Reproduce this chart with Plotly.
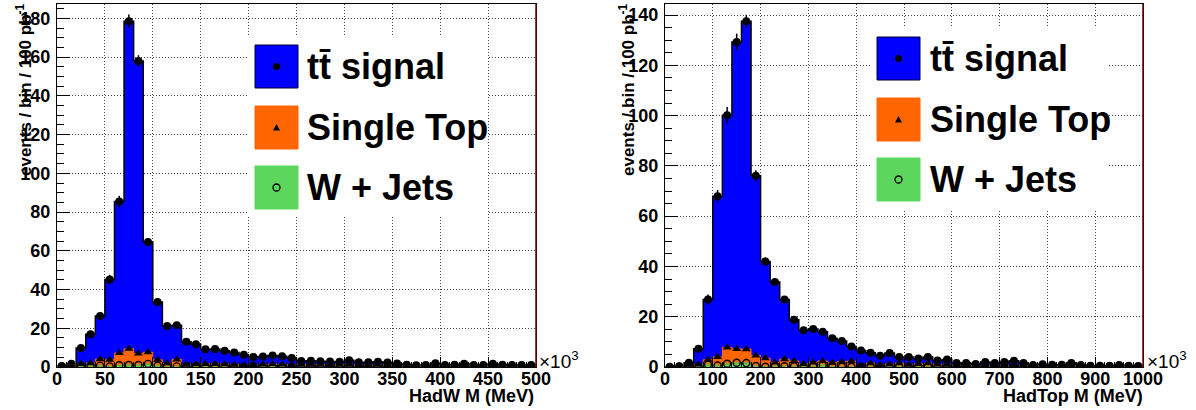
import numpy as np
import plotly.graph_objects as go

W, H = 1196, 410

# ---- Hadronic W candidate mass, 50 bins over 0-500 (x10^3 MeV) ----
hadw_range = (0, 500)
hadw_ttbar = [0.0, 0.2, 8.2, 14.9, 22.3, 41.5, 78.2, 169.1, 151.0, 56.9,
              29.8, 19.3, 17.7, 11.9, 10.3, 7.7, 7.7, 7.0, 6.3, 5.3,
              4.2, 4.1, 4.5, 4.3, 3.6, 2.0, 2.0, 1.9, 1.9, 1.6,
              2.3, 1.4, 1.5, 1.6, 1.3, 0.9, 0.4, 0.3, 0.3, 1.2,
              0.2, 0.4, 0.8, 0.3, 0.4, 0.9, 0.4, 0.4, 0.4, 0.4]
hadw_singletop = [0.2, 1.3, 0.9, 1.3, 3.3, 3.4, 6.3, 8.4, 6.0, 6.0,
                  2.9, 1.6, 3.6, 0.5, 0.8, 1.2, 1.4, 1.1, 1.0, 0.8,
                  0.5, 1.1, 1.3, 1.1, 0.8, 1.0, 1.1, 1.0, 0.9, 1.0,
                  1.1, 0.9, 0.9, 1.0, 0.9, 0.8, 0.7, 0.5, 0.6, 0.7,
                  0.7, 0.6, 0.8, 0.6, 0.5, 0.7, 0.6, 0.5, 0.5, 0.5]
hadw_wjets = [0.3, 0.2, 0.7, 0.7, 0.7, 0.3, 0.9, 1.0, 1.0, 1.6,
              0.8, 0.3, 0.3, 0.6, 0.6, 0.3, 0.2, 0.3, 0.2, 0.2,
              0.5, 0.2, 0.2, 0.2, 0.2, 0.1, 0.1, 0.1, 0.1, 0.1,
              0.1, 0.1, 0.1, 0.1, 0.1, 0.1, 0.1, 0.1, 0.1, 0.1,
              0.1, 0.1, 0.1, 0.1, 0.1, 0.1, 0.1, 0.1, 0.1, 0.1]
hadw_err = [0.2, 0.5, 1.0, 1.3, 1.6, 2.4, 3.0, 3.5, 3.0, 2.0,
            1.5, 1.2, 1.2, 1.0, 1.0, 0.9, 0.9, 0.8, 0.8, 0.7,
            0.7, 0.7, 0.7, 0.7, 0.6, 0.5, 0.5, 0.5, 0.5, 0.5,
            0.5, 0.5, 0.5, 0.5, 0.5, 0.4, 0.4, 0.3, 0.3, 0.4,
            0.3, 0.3, 0.4, 0.3, 0.3, 0.4, 0.3, 0.3, 0.3, 0.3]

# ---- Hadronic top candidate mass, 50 bins over 0-1000 (x10^3 MeV) ----
hadtop_range = (0, 1000)
hadtop_ttbar = [0.0, 0.2, 0.7, 6.3, 23.9, 63.9, 92.3, 122.1, 130.4, 71.5,
                38.5, 32.0, 23.7, 16.4, 13.4, 13.3, 11.6, 9.7, 8.2, 5.9,
                6.2, 4.2, 3.7, 4.5, 2.5, 3.1, 2.2, 2.5, 1.6, 2.1,
                0.9, 1.0, 0.7, 1.4, 1.1, 1.4, 1.8, 1.1, 0.4, 0.6,
                0.5, 0.5, 1.1, 0.4, 0.2, 0.2, 0.2, 0.4, 0.2, 0.1]
hadtop_singletop = [0.0, 0.0, 0.8, 0.7, 1.9, 3.4, 6.5, 5.5, 5.5, 4.2,
                    3.4, 1.5, 2.8, 2.1, 1.1, 1.5, 1.6, 1.6, 2.0, 2.2,
                    0.3, 1.4, 0.7, 1.0, 1.4, 0.8, 1.1, 1.4, 0.9, 0.8,
                    0.6, 0.5, 0.4, 0.5, 0.4, 0.5, 0.6, 0.4, 0.3, 0.4,
                    0.3, 0.3, 0.4, 0.3, 0.2, 0.2, 0.2, 0.3, 0.2, 0.2]
hadtop_wjets = [0.0, 0.1, 0.2, 0.3, 1.0, 0.6, 1.3, 1.7, 1.6, 0.4,
                0.1, 0.3, 0.3, 0.3, 0.1, 0.3, 0.8, 0.1, 0.1, 0.1,
                0.1, 0.1, 0.1, 0.1, 0.1, 0.1, 0.1, 0.1, 0.1, 0.1,
                0.1, 0.1, 0.1, 0.1, 0.1, 0.1, 0.1, 0.1, 0.1, 0.1,
                0.1, 0.1, 0.1, 0.1, 0.1, 0.1, 0.1, 0.1, 0.1, 0.1]
hadtop_err = [0.0, 0.2, 0.5, 1.2, 2.0, 2.5, 3.3, 3.3, 2.6, 2.2,
              1.6, 1.4, 1.3, 1.1, 1.0, 1.0, 1.0, 0.9, 0.9, 0.8,
              0.7, 0.7, 0.6, 0.7, 0.6, 0.6, 0.5, 0.6, 0.5, 0.5,
              0.4, 0.4, 0.3, 0.4, 0.4, 0.4, 0.5, 0.4, 0.3, 0.3,
              0.3, 0.3, 0.4, 0.3, 0.2, 0.2, 0.2, 0.3, 0.2, 0.2]

legend_labels = ["tt\u0304 signal", "Single Top", "W + Jets"]

C_TT = "#0000ff"
C_ST = "#ff6600"
C_WJ = "#5cd65c"
C_WJ_LINE = "#8a9e3c"

FONT = "Liberation Sans, Arial, Helvetica, sans-serif"


def px(x):
    return x / W


def py(y):
    return 1 - y / H


def step_xy(edges, vals):
    vals = np.asarray(vals, dtype=float)
    x = np.concatenate([[edges[0]], edges, [edges[-1]]])
    y = np.concatenate([[0.0], vals, [vals[-1]], [0.0]])
    return x, y


fig = go.Figure()


def add_stack(xa, ya, rng, tt, st, wj, err):
    nb = len(tt)
    edges = np.linspace(rng[0], rng[1], nb + 1)
    centers = 0.5 * (edges[:-1] + edges[1:])
    lvl_wj = np.asarray(wj, dtype=float)
    lvl_st = lvl_wj + np.asarray(st, dtype=float)
    lvl_tt = lvl_st + np.asarray(tt, dtype=float)

    for lvl, fc, lc, lw in [(lvl_tt, C_TT, "black", 1.5),
                            (lvl_st, C_ST, C_ST, 1.0),
                            (lvl_wj, C_WJ, C_WJ_LINE, 2.0)]:
        x, y = step_xy(edges, lvl)
        fig.add_trace(go.Scatter(x=x, y=y, mode="lines", line_shape="hv",
                                 line=dict(color=lc, width=lw),
                                 fill="tozeroy", fillcolor=fc,
                                 xaxis=xa, yaxis=ya, showlegend=False,
                                 hoverinfo="skip"))
    fig.add_trace(go.Scatter(x=centers, y=lvl_wj, mode="markers",
                             marker=dict(symbol="circle-open", size=7, color="black",
                                         line=dict(width=1.4, color="black")),
                             xaxis=xa, yaxis=ya, showlegend=False))
    fig.add_trace(go.Scatter(x=centers, y=lvl_st, mode="markers",
                             marker=dict(symbol="triangle-up", size=8, color="black"),
                             xaxis=xa, yaxis=ya, showlegend=False))
    fig.add_trace(go.Scatter(x=centers, y=lvl_tt, mode="markers",
                             marker=dict(symbol="circle", size=8, color="black"),
                             error_y=dict(type="data", array=err, color="black",
                                          thickness=1.5, width=0),
                             xaxis=xa, yaxis=ya, showlegend=False))
    return lvl_tt.max()


ymax_w = add_stack("x", "y", hadw_range, hadw_ttbar, hadw_singletop, hadw_wjets, hadw_err)
ymax_t = add_stack("x2", "y2", hadtop_range, hadtop_ttbar, hadtop_singletop, hadtop_wjets, hadtop_err)

tickfont = dict(family=FONT, size=18, color="black", weight="bold")
grid = dict(showgrid=True, gridcolor="#444444", griddash="1px,2px", gridwidth=1,
            zeroline=False, showline=True, mirror=True, linecolor="black", linewidth=1,
            ticks="inside", tickcolor="black", tickfont=tickfont, automargin=False)

y_dom = [py(367), py(4)]
fig.update_layout(
    template="none",
    width=W, height=H, margin=dict(l=0, r=0, t=0, b=0, pad=0),
    paper_bgcolor="white", plot_bgcolor="white", showlegend=False,
    xaxis=dict(domain=[px(57), px(536)], range=list(hadw_range), anchor="y",
               dtick=50, ticklen=10, ticklabelstandoff=-5,
               minor=dict(ticks="inside", dtick=10, ticklen=5, tickcolor="black", showgrid=False),
               **grid),
    yaxis=dict(domain=y_dom, range=[0, ymax_w * 1.05], anchor="x",
               dtick=20, ticklen=13, ticklabelstandoff=2,
               minor=dict(ticks="inside", dtick=5, ticklen=7, tickcolor="black", showgrid=False),
               **grid),
    xaxis2=dict(domain=[px(665), px(1143)], range=list(hadtop_range), anchor="y2",
                dtick=100, ticklen=10, ticklabelstandoff=-5,
                minor=dict(ticks="inside", dtick=20, ticklen=5, tickcolor="black", showgrid=False),
                **grid),
    yaxis2=dict(domain=y_dom, range=[0, ymax_t * 1.05], anchor="x2",
                dtick=20, ticklen=13, ticklabelstandoff=2,
                minor=dict(ticks="inside", dtick=5, ticklen=7, tickcolor="black", showgrid=False),
                **grid),
)

shapes = []
annotations = []

# right-hand frame edge
for xr in (536, 1143):
    shapes.append(dict(type="line", xref="paper", yref="paper",
                       x0=px(xr), x1=px(xr), y0=py(367), y1=py(4),
                       line=dict(color="#6b0000", width=1.5), layer="above"))

# axis titles and exponent labels
for (xr, ytc, title) in [(536, 24, "HadW M (MeV)"), (1145, 627, "HadTop M (MeV)")]:
    annotations.append(dict(text=f"<b>{title}</b>", xref="paper", yref="paper",
                            x=px(xr), y=py(396), xanchor="right", yanchor="middle",
                            showarrow=False, font=dict(family=FONT, size=18, color="black")))
    annotations.append(dict(text="<b>events / bin / 100 pb<sup>-1</sup></b>",
                            xref="paper", yref="paper", x=px(ytc), y=py(90),
                            xanchor="center", yanchor="middle", textangle=-90,
                            showarrow=False, font=dict(family=FONT, size=17, color="black")))
for xr in (537, 1145):
    annotations.append(dict(text="\u00d710<sup>3</sup>", xref="paper", yref="paper",
                            x=px(xr), y=py(360), xanchor="left", yanchor="middle",
                            showarrow=False, font=dict(family=FONT, size=19, color="black")))

# legend boxes
legend_boxes = [
    dict(box=(247, 35, 488, 217), sq_x=255, sq_y=[45, 106, 166], txt_x=305),
    dict(box=(871, 27, 1108, 210), sq_x=877, sq_y=[37, 98, 158], txt_x=928),
]
sq = 43
fills = [C_TT, C_ST, C_WJ]
borders = ["#000033", C_ST, C_WJ]
for lb in legend_boxes:
    x0, y0, x1, y1 = lb["box"]
    shapes.append(dict(type="rect", xref="paper", yref="paper",
                       x0=px(x0), x1=px(x1), y0=py(y1), y1=py(y0),
                       fillcolor="white", line=dict(width=0), layer="above"))
    for i, sy in enumerate(lb["sq_y"]):
        sx = lb["sq_x"]
        shapes.append(dict(type="rect", xref="paper", yref="paper",
                           x0=px(sx), x1=px(sx + sq), y0=py(sy + sq), y1=py(sy),
                           fillcolor=fills[i], line=dict(color=borders[i], width=1), layer="above"))
        cx, cy = sx + sq / 2, sy + sq / 2
        if i == 0:
            shapes.append(dict(type="circle", xref="paper", yref="paper",
                               x0=px(cx - 3.5), x1=px(cx + 3.5), y0=py(cy + 3.5), y1=py(cy - 3.5),
                               fillcolor="black", line=dict(color="black", width=0), layer="above"))
        elif i == 1:
            path = (f"M {px(cx - 3.5)},{py(cy + 3)} L {px(cx + 3.5)},{py(cy + 3)} "
                    f"L {px(cx)},{py(cy - 3.5)} Z")
            shapes.append(dict(type="path", xref="paper", yref="paper", path=path,
                               fillcolor="black", line=dict(color="black", width=0), layer="above"))
        else:
            shapes.append(dict(type="circle", xref="paper", yref="paper",
                               x0=px(cx - 3.5), x1=px(cx + 3.5), y0=py(cy + 3.5), y1=py(cy - 3.5),
                               fillcolor="rgba(0,0,0,0)", line=dict(color="black", width=1.3),
                               layer="above"))
        annotations.append(dict(text=f"<b>{legend_labels[i]}</b>", xref="paper", yref="paper",
                                x=px(lb["txt_x"]), y=py(cy), xanchor="left", yanchor="middle",
                                showarrow=False,
                                font=dict(family=FONT, size=36, color="black")))

fig.update_layout(shapes=shapes, annotations=annotations)
fig.write_html("out.html")
